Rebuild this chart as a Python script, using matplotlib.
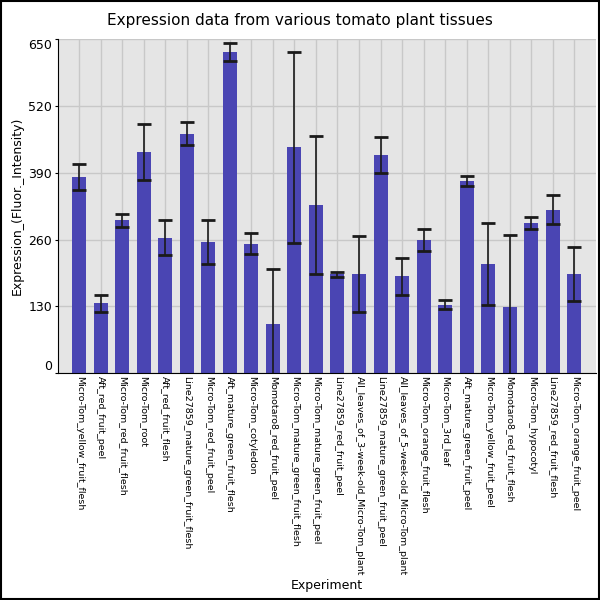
import matplotlib
matplotlib.use("Agg")
import matplotlib.pyplot as plt
import numpy as np

# 数据
experiments = [
    "Micro-Tom_yellow_fruit_flesh", "Aft_red_fruit_peel", "Micro-Tom_red_fruit_flesh",
    "Micro-Tom_root", "Aft_red_fruit_flesh", "Line27859_mature_green_fruit_flesh",
    "Micro-Tom_red_fruit_peel", "Aft_mature_green_fruit_flesh", "Micro-Tom_cotyledon",
    "Momotaro8_red_fruit_peel", "Micro-Tom_mature_green_fruit_flesh",
    "Micro-Tom_mature_green_fruit_peel", "Line27859_red_fruit_peel",
    "All_leaves_of_3-week-old_Micro-Tom_plant", "Line27859_mature_green_fruit_peel",
    "All_leaves_of_5-week-old_Micro-Tom_plant", "Micro-Tom_orange_fruit_flesh",
    "Micro-Tom_3rd_leaf", "Aft_mature_green_fruit_peel", "Micro-Tom_yellow_fruit_peel",
    "Momotaro8_red_fruit_flesh", "Micro-Tom_hypocotyl", "Line27859_red_fruit_flesh",
    "Micro-Tom_orange_fruit_peel",
]
expression = [382, 136, 297, 430, 263, 466, 255, 625, 252, 96, 439,
              327, 192, 193, 424, 189, 259, 133, 374, 212, 129, 292, 318, 193]
errors = [25, 17, 12, 55, 34, 23, 43, 18, 20, 106, 186,
          134, 5, 74, 35, 36, 21, 9, 10, 80, 140, 11, 28, 52]
yticks = [0, 130, 260, 390, 520, 650]

fig = plt.figure(figsize=(6, 6), dpi=100)
ax = fig.add_axes([0.096, 0.378, 0.897, 0.557])
ax.set_facecolor("#e5e5e5")
ax.set_axisbelow(True)

x = np.arange(len(experiments))
ax.bar(x, expression, width=0.65, color="#4a45b3", zorder=2)
ax.errorbar(x, expression, yerr=errors, fmt="none", ecolor="#1a1a1a",
            elinewidth=1.2, capsize=5, capthick=2, zorder=3)

ax.set_xlim(-1, len(experiments))
ax.set_ylim(0, 650)
ax.set_xticks(x)
ax.set_xticklabels(experiments, rotation=270, fontsize=6.8, va="top", ha="center")
ax.set_yticks(yticks)
ax.set_yticklabels([str(v) for v in yticks], fontsize=9)
lbls = ax.get_yticklabels()
lbls[0].set_va("bottom")
lbls[-1].set_va("top")
ax.tick_params(axis="x", length=0, pad=2)
ax.tick_params(axis="y", length=2.5, pad=1.5)

ax.grid(True, color="#c8c8c8", linewidth=1)
for s in ["top", "right"]:
    ax.spines[s].set_visible(False)
ax.spines["left"].set_color("black")
ax.spines["bottom"].set_color("black")

ax.set_ylabel("Expression_(Fluor._Intensity)", fontsize=9)
ax.yaxis.set_label_coords(-0.063, 0.5)
fig.text(0.545, 0.025, "Experiment", ha="center", va="center", fontsize=9)
fig.text(0.5, 0.965, "Expression data from various tomato plant tissues",
         ha="center", va="center", fontsize=11)

# 外框
fig.patches.append(plt.Rectangle((0.001, 0.002), 0.997, 0.997, transform=fig.transFigure,
                                 fill=False, edgecolor="black", linewidth=1.5))

fig.savefig("out.png", dpi=100)
